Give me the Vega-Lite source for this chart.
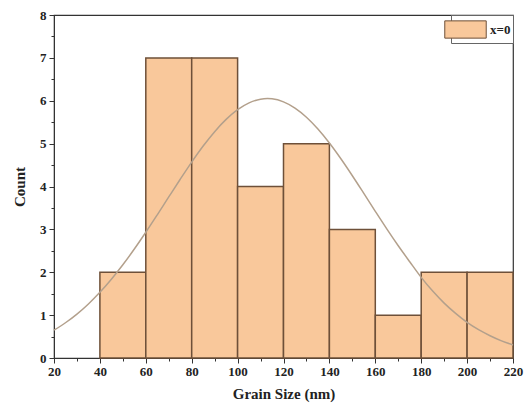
{
  "$schema": "https://vega.github.io/schema/vega-lite/v6.json",
  "width": 459,
  "height": 343,
  "autosize": "none",
  "padding": {"left": 54, "top": 15, "right": 15, "bottom": 51},
  "background": "white",
  "config": {
    "view": {"stroke": "#333333", "strokeWidth": 1.2},
    "font": "Liberation Serif",
    "axis": {
      "labelFont": "Liberation Serif", "labelFontWeight": "bold", "labelFontSize": 13, "labelColor": "#222",
      "titleFont": "Liberation Serif", "titleFontWeight": "bold", "titleFontSize": 15, "titleColor": "#222",
      "domainColor": "#333", "tickColor": "#333", "grid": false
    }
  },
  "resolve": {"axis": {"x": "independent", "y": "independent"}},
  "layer": [
    {
      "data": {"values": [
        {"start": 40, "end": 60, "count": 2},
        {"start": 60, "end": 80, "count": 7},
        {"start": 80, "end": 100, "count": 7},
        {"start": 100, "end": 120, "count": 4},
        {"start": 120, "end": 140, "count": 5},
        {"start": 140, "end": 160, "count": 3},
        {"start": 160, "end": 180, "count": 1},
        {"start": 180, "end": 200, "count": 2},
        {"start": 200, "end": 220, "count": 2}
      ]},
      "mark": {"type": "bar", "stroke": "#6e5039", "strokeWidth": 1.5},
      "encoding": {
        "x": {"field": "start", "type": "quantitative",
              "scale": {"domain": [20, 220], "nice": false, "zero": false},
              "axis": {"orient": "bottom", "values": [20, 40, 60, 80, 100, 120, 140, 160, 180, 200, 220], "tickSize": 5, "labelPadding": 2, "title": "Grain Size (nm)", "titlePadding": 8, "labelFlush": false}},
        "x2": {"field": "end"},
        "y": {"field": "count", "type": "quantitative",
              "scale": {"domain": [0, 8], "nice": false},
              "axis": {"orient": "left", "values": [0, 1, 2, 3, 4, 5, 6, 7, 8], "tickSize": 5, "labelPadding": 3, "title": "Count", "titlePadding": 12}},
        "y2": {"datum": 0},
        "color": {"datum": "x=0", "type": "nominal",
                  "scale": {"range": ["#f9c89b"]},
                  "legend": {"title": null, "orient": "top-right", "offset": 0,
                             "symbolType": "M-1.8,-0.75H1.8V0.75H-1.8Z", "symbolSize": 530,
                             "symbolStrokeColor": "#6e5039", "symbolStrokeWidth": 1,
                             "symbolOpacity": 1, "labelOffset": 12,
                             "labelFont": "Liberation Serif", "labelFontWeight": "bold", "labelFontSize": 13,
                             "labelColor": "#222",
                             "fillColor": "white", "strokeColor": "#666", "padding": 2}}
      }
    },
    {
      "data": {"values": [
        {"x": 20, "y": 0.650}, {"x": 25, "y": 0.822}, {"x": 30, "y": 1.024}, {"x": 35, "y": 1.260},
        {"x": 40, "y": 1.531}, {"x": 45, "y": 1.837}, {"x": 50, "y": 2.174}, {"x": 55, "y": 2.541},
        {"x": 60, "y": 2.932}, {"x": 65, "y": 3.340}, {"x": 70, "y": 3.756}, {"x": 75, "y": 4.169},
        {"x": 80, "y": 4.569}, {"x": 85, "y": 4.943}, {"x": 90, "y": 5.279}, {"x": 95, "y": 5.565},
        {"x": 100, "y": 5.792}, {"x": 105, "y": 5.951}, {"x": 110, "y": 6.036}, {"x": 113, "y": 6.050},
        {"x": 115, "y": 6.044}, {"x": 120, "y": 5.974}, {"x": 125, "y": 5.829}, {"x": 130, "y": 5.616},
        {"x": 135, "y": 5.340}, {"x": 140, "y": 5.013}, {"x": 145, "y": 4.646}, {"x": 150, "y": 4.251},
        {"x": 155, "y": 3.839}, {"x": 160, "y": 3.422}, {"x": 165, "y": 3.012}, {"x": 170, "y": 2.618},
        {"x": 175, "y": 2.245}, {"x": 180, "y": 1.880}, {"x": 185, "y": 1.560}, {"x": 190, "y": 1.280},
        {"x": 195, "y": 1.040}, {"x": 200, "y": 0.830}, {"x": 205, "y": 0.660}, {"x": 210, "y": 0.520},
        {"x": 215, "y": 0.400}, {"x": 220, "y": 0.305}
      ]},
      "mark": {"type": "line", "color": "#b3a08c", "strokeWidth": 1.5, "interpolate": "monotone"},
      "encoding": {
        "x": {"field": "x", "type": "quantitative",
              "scale": {"domain": [20, 220], "nice": false, "zero": false},
              "axis": {"orient": "bottom", "values": [30, 50, 70, 90, 110, 130, 150, 170, 190, 210], "tickSize": 3, "labels": false, "domain": false, "title": null}},
        "y": {"field": "y", "type": "quantitative",
              "scale": {"domain": [0, 8], "nice": false},
              "axis": {"orient": "left", "values": [0.5, 1.5, 2.5, 3.5, 4.5, 5.5, 6.5, 7.5], "tickSize": 3, "labels": false, "domain": false, "title": null}}
      }
    }
  ]
}
